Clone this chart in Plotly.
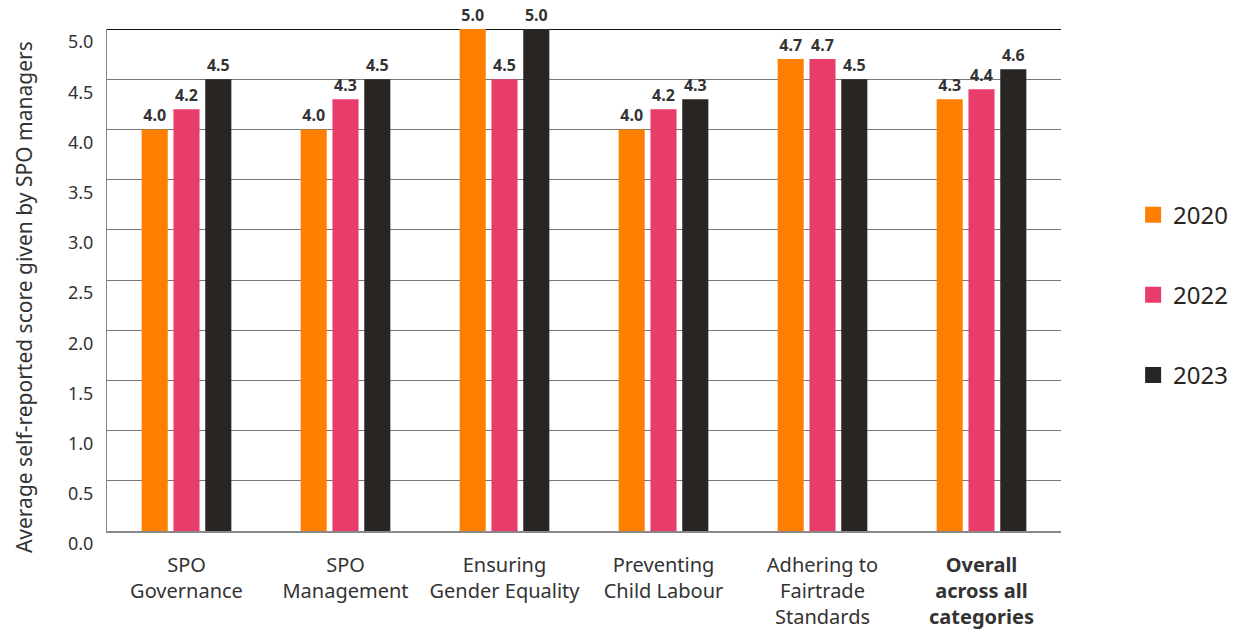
import plotly.graph_objects as go

categories = ["SPO<br>Governance", "SPO<br>Management", "Ensuring<br>Gender Equality",
              "Preventing<br>Child Labour", "Adhering to<br>Fairtrade<br>Standards",
              "<b>Overall<br>across all<br>categories</b>"]
years = ["2020", "2022", "2023"]
v2020 = [4.0, 4.0, 5.0, 4.0, 4.7, 4.3]
v2022 = [4.2, 4.3, 4.5, 4.2, 4.7, 4.4]
v2023 = [4.5, 4.5, 5.0, 4.3, 4.5, 4.6]
colors = ["#FF8000", "#E83C6B", "#282522"]
yticks = [0, 0.5, 1, 1.5, 2, 2.5, 3, 3.5, 4, 4.5, 5]
ytitle = "Average self-reported score given by SPO managers"

FONT = "Noto Sans, Open Sans, sans-serif"
fig = go.Figure()
for i, (name, vals) in enumerate(zip(years, [v2020, v2022, v2023])):
    fig.add_trace(go.Bar(
        x=categories, y=vals, name=name, marker_color=colors[i], marker_line_width=0,
        text=[f"{v:.1f}" for v in vals], textposition="outside", cliponaxis=False,
        constraintext="none",
        textfont=dict(family=FONT, size=16, color="#333333", weight="bold"),
        showlegend=False,
    ))
for i, name in enumerate(years):
    fig.add_trace(go.Scatter(
        x=[None], y=[None], mode="markers", name=name,
        marker=dict(symbol="square", size=18, color=colors[i]),
        showlegend=True, legendgroup=name,
    ))

fig.update_layout(
    width=1245, height=626,
    margin=dict(l=99, r=192, t=21, b=103),
    plot_bgcolor="white", paper_bgcolor="white",
    barmode="group", bargap=0.40, bargroupgap=0.18,
    font=dict(family=FONT, color="#333333"),
    showlegend=True,
    legend=dict(x=1.0756, y=0.47, xanchor="left", yanchor="middle",
                font=dict(size=24, color="#282522"), tracegroupgap=46,
                itemwidth=30, borderwidth=0, bgcolor="rgba(0,0,0,0)"),
    xaxis=dict(showgrid=False, showline=True, linecolor="#888888", linewidth=2,
               tickfont=dict(size=20, color="#333333"), ticks="outside", ticklen=15,
               tickcolor="rgba(0,0,0,0)", automargin=False),
    yaxis=dict(range=[0, 5], tickvals=yticks, tickformat=".1f", showgrid=True,
               gridcolor="#777777", gridwidth=1, showline=True, linecolor="#888888",
               linewidth=1, zeroline=False, automargin=False,
               ticklabelposition="outside bottom", ticklabelstandoff=9,
               tickfont=dict(size=18, color="#333333"), ticks="outside", ticklen=5,
               tickcolor="rgba(0,0,0,0)"),
    annotations=[dict(text=ytitle, textangle=-90, xref="paper", yref="paper",
                      x=-0.0870, y=0.466, xanchor="center", yanchor="middle",
                      showarrow=False, font=dict(size=21, color="#333333"))],
    shapes=[dict(type="line", xref="paper", yref="y", x0=0, x1=1, y0=5, y1=5,
                 line=dict(color="#111111", width=2), layer="below")],
)

fig.write_html("out.html")
